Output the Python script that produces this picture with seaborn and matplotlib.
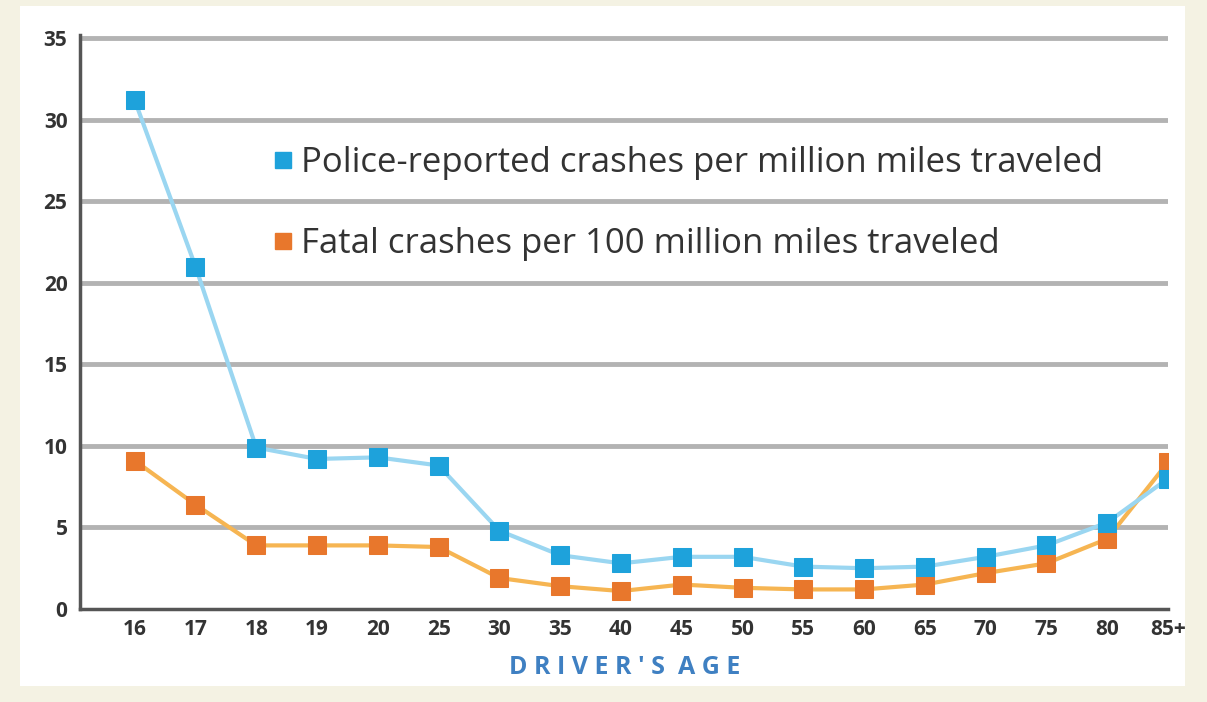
import matplotlib
matplotlib.use("Agg")
import matplotlib.pyplot as plt
import seaborn as sns
import pandas as pd
from matplotlib.lines import Line2D
from matplotlib.patches import Rectangle

ages = ["16", "17", "18", "19", "20", "25", "30", "35", "40", "45", "50",
        "55", "60", "65", "70", "75", "80", "85+"]
police = [31.2, 21.0, 9.9, 9.2, 9.3, 8.8, 4.8, 3.3, 2.8, 3.2, 3.2,
          2.6, 2.5, 2.6, 3.2, 3.9, 5.3, 8.0]
fatal = [9.1, 6.4, 3.9, 3.9, 3.9, 3.8, 1.9, 1.4, 1.1, 1.5, 1.3,
         1.2, 1.2, 1.5, 2.2, 2.8, 4.3, 9.0]
yticks = [0, 5, 10, 15, 20, 25, 30, 35]
police_label = "Police-reported crashes per million miles traveled"
fatal_label = "Fatal crashes per 100 million miles traveled"

sns.set_theme(style="white")
plt.rcParams["font.family"] = ["Open Sans", "DejaVu Sans"]

df = pd.DataFrame({"pos": range(len(ages)), "age": ages,
                   "police": police, "fatal": fatal})

fig = plt.figure(figsize=(12.07, 7.02), dpi=100)
fig.patch.set_facecolor("#f4f2e3")
bg = Rectangle((20 / 1207, 1 - 686 / 702), (1185 - 20) / 1207, (686 - 6) / 702,
               transform=fig.transFigure, facecolor="white", edgecolor="none", zorder=-5)
fig.patches.append(bg)

ax = fig.add_axes([80 / 1207, 1 - 609 / 702, 1088 / 1207, 574 / 702])
ax.set_zorder(2)
ax.set_facecolor("none")

blue_line, blue_mk = "#9ad6f1", "#1ea2db"
orange_line, orange_mk = "#f6b552", "#e8772c"

sns.lineplot(data=df, x="pos", y="police", ax=ax, color=blue_line, lw=3,
             marker="s", markersize=13, markerfacecolor=blue_mk,
             markeredgecolor=blue_mk, zorder=4)
sns.lineplot(data=df, x="pos", y="fatal", ax=ax, color=orange_line, lw=3,
             marker="s", markersize=13, markerfacecolor=orange_mk,
             markeredgecolor=orange_mk, zorder=3)

ax.set_xlim(-0.9, 17.0)
ax.set_ylim(0, 35.2)
ax.set_yticks(yticks)
ax.set_yticklabels([str(v) for v in yticks], fontsize=15, fontweight="bold", color="#333333")
ax.set_xticks(range(len(ages)))
ax.set_xticklabels(ages, fontsize=15, fontweight="bold", color="#333333")
ax.tick_params(axis="x", direction="in", length=6, width=1, color="#bbbbcc", pad=7)
ax.tick_params(axis="y", length=0, pad=9)
for v in yticks[1:]:
    ax.axhline(v, color="#b3b3b3", lw=3.5, zorder=1)
ax.grid(False)
for s in ["top", "right"]:
    ax.spines[s].set_visible(False)
for s in ["left", "bottom"]:
    ax.spines[s].set_color("#555555")
    ax.spines[s].set_linewidth(2.5)
ax.set_xlabel("")
ax.set_ylabel("")

handles = [Line2D([], [], marker="s", color=blue_mk, linestyle="None", markersize=12),
           Line2D([], [], marker="s", color=orange_mk, linestyle="None", markersize=12)]
leg = ax.legend(handles, [police_label, fatal_label], loc="upper left",
                bbox_to_anchor=(273 / 1207, 1 - 146 / 702), bbox_transform=fig.transFigure,
                frameon=False, borderpad=0, borderaxespad=0,
                handlelength=0.6, handletextpad=0.2, labelspacing=1.35,
                prop={"size": 25})
for t in leg.get_texts():
    t.set_color("#333333")

fig.text(625 / 1207, 1 - 668 / 702, "D R I V E R ' S  A G E",
         ha="center", va="center", fontsize=18, fontweight="bold", color="#3f80c2")

fig.savefig("out.png", dpi=100, facecolor=fig.get_facecolor())
